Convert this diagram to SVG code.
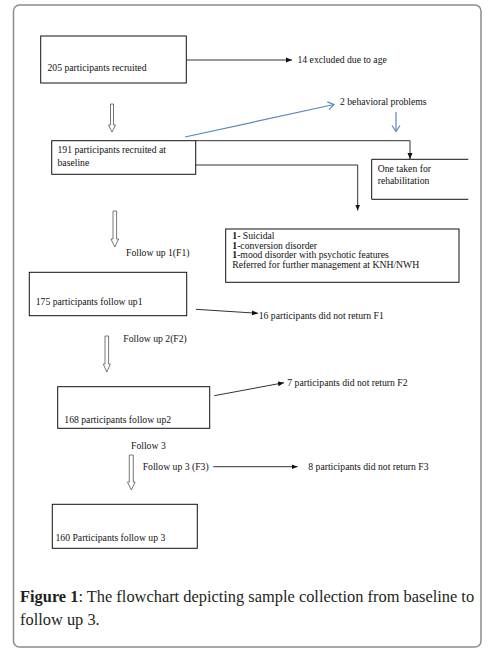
<svg xmlns="http://www.w3.org/2000/svg" width="494" height="661" viewBox="0 0 494 661">
<style>
  .t { font-family: "Liberation Serif", "Times New Roman", serif; font-size: 9.7px; fill: #111; }
  .box { fill: #fff; stroke: #111; stroke-width: 1; }
  .ln { fill: none; stroke: #333; stroke-width: 1; }
  .bl { fill: none; stroke: #5a86bd; stroke-width: 1.2; }
  .hollow { fill: #fff; stroke: #555; stroke-width: 0.8; }
  .cap { font-family: "Liberation Serif", "Times New Roman", serif; font-size: 16.4px; fill: #231f20; }
</style>
<defs>
  <marker id="arr" markerUnits="userSpaceOnUse" markerWidth="7" markerHeight="6" refX="6" refY="3" orient="auto">
    <path d="M0,0.5 L6,3 L0,5.5 Z" fill="#111"/>
  </marker>
  <marker id="barr" markerUnits="userSpaceOnUse" markerWidth="9" markerHeight="10" refX="7" refY="5" orient="auto">
    <path d="M1,1 L7,5 L1,9" fill="none" stroke="#5a86bd" stroke-width="1.2"/>
  </marker>
</defs>
<rect x="0" y="0" width="494" height="661" fill="#fff"/>
<rect id="frame" x="13.5" y="5" width="467.5" height="642" rx="6" ry="6" fill="#fff" stroke="#8c8c8c" stroke-width="1.5"/>

<g id="connectors">
  <line class="ln" x1="186.3" y1="60" x2="292" y2="60" marker-end="url(#arr)"/>
  <path class="hollow" d="M110.5,104 L110.5,125 L108.5,125 L112,132 L115.5,125 L113.5,125 L113.5,104 Z"/>
  <path class="hollow" d="M113,211 L113,239 L111,239 L114.8,247 L118.6,239 L116.6,239 L116.6,211 Z"/>
  <path class="hollow" d="M105,336 L105,364 L103.3,364 L106.8,372 L110.3,364 L108.6,364 L108.6,336 Z"/>
  <path class="hollow" d="M129.3,455 L129.3,482 L127.5,482 L131.3,490 L135.1,482 L133.3,482 L133.3,455 Z"/>
  <line class="bl" x1="185" y1="137" x2="334" y2="104.5" marker-end="url(#barr)"/>
  <line class="bl" x1="396" y1="112" x2="396" y2="131.5" marker-end="url(#barr)"/>
  <polyline class="ln" points="195.7,140.7 410,140.7 410,159" marker-end="url(#arr)"/>
  <polyline class="ln" points="195.7,165 357.7,165 357.7,210.5" marker-end="url(#arr)"/>
  <line class="ln" x1="196" y1="309.3" x2="258" y2="313.3" marker-end="url(#arr)"/>
  <line class="ln" x1="214.3" y1="395.7" x2="284" y2="382.7" marker-end="url(#arr)"/>
  <line class="ln" x1="213.3" y1="466.7" x2="297.5" y2="466.7" marker-end="url(#arr)"/>
</g>

<g id="n205">
  <rect class="box" x="40.7" y="36" width="145.6" height="47"/>
  <text class="t" x="47.5" y="71">205 participants recruited</text>
</g>
<g id="n14">
  <text class="t" x="297.5" y="63">14 excluded due to age</text>
</g>
<g id="n191">
  <rect class="box" x="51.7" y="140.7" width="144" height="33.6"/>
  <text class="t" x="57.5" y="153.3">191 participants recruited at</text>
  <text class="t" x="57.5" y="165.5">baseline</text>
</g>
<g id="nbeh">
  <text class="t" x="340" y="105">2 behavioral problems</text>
</g>
<g id="nrehab">
  <path class="box" d="M468.3,159.3 L371.7,159.3 L371.7,199.3 L468.3,199.3"/>
  <text class="t" x="377.7" y="172">One taken for</text>
  <text class="t" x="377.7" y="184">rehabilitation</text>
</g>
<g id="nref">
  <rect class="box" x="225.7" y="229" width="233.3" height="53.3"/>
  <text class="t" x="232.3" y="239"><tspan font-weight="bold">1</tspan>- Suicidal</text>
  <text class="t" x="232.3" y="248.7"><tspan font-weight="bold">1</tspan>-conversion disorder</text>
  <text class="t" x="232.3" y="258.4"><tspan font-weight="bold">1</tspan>-mood disorder with psychotic features</text>
  <text class="t" x="232.3" y="268">Referred for further management at KNH/NWH</text>
</g>
<g id="nf1label">
  <text class="t" x="126" y="256">Follow up 1(F1)</text>
</g>
<g id="n175">
  <rect class="box" x="29.3" y="272.3" width="157.4" height="43.4"/>
  <text class="t" x="35.7" y="305">175 participants follow up1</text>
</g>
<g id="n16">
  <text class="t" x="258.7" y="319">16 participants did not return F1</text>
</g>
<g id="nf2label">
  <text class="t" x="123.3" y="342">Follow up 2(F2)</text>
</g>
<g id="n168">
  <rect class="box" x="57.7" y="386.7" width="152" height="41.6"/>
  <text class="t" x="64.3" y="423">168 participants follow up2</text>
</g>
<g id="n7">
  <text class="t" x="287.3" y="386">7 participants did not return F2</text>
</g>
<g id="nfollow3">
  <text class="t" x="131" y="449">Follow 3</text>
</g>
<g id="nf3label">
  <text class="t" x="142.7" y="470">Follow up 3 (F3)</text>
</g>
<g id="n8">
  <text class="t" x="308.3" y="470">8 participants did not return F3</text>
</g>
<g id="n160">
  <rect class="box" x="52.3" y="504.3" width="145" height="44"/>
  <text class="t" x="55.5" y="541">160 Participants follow up 3</text>
</g>

<g id="caption">
  <text class="cap" x="20" y="602"><tspan font-weight="bold">Figure 1</tspan>: The flowchart depicting sample collection from baseline to</text>
  <text class="cap" x="20" y="625">follow up 3.</text>
</g>
</svg>
